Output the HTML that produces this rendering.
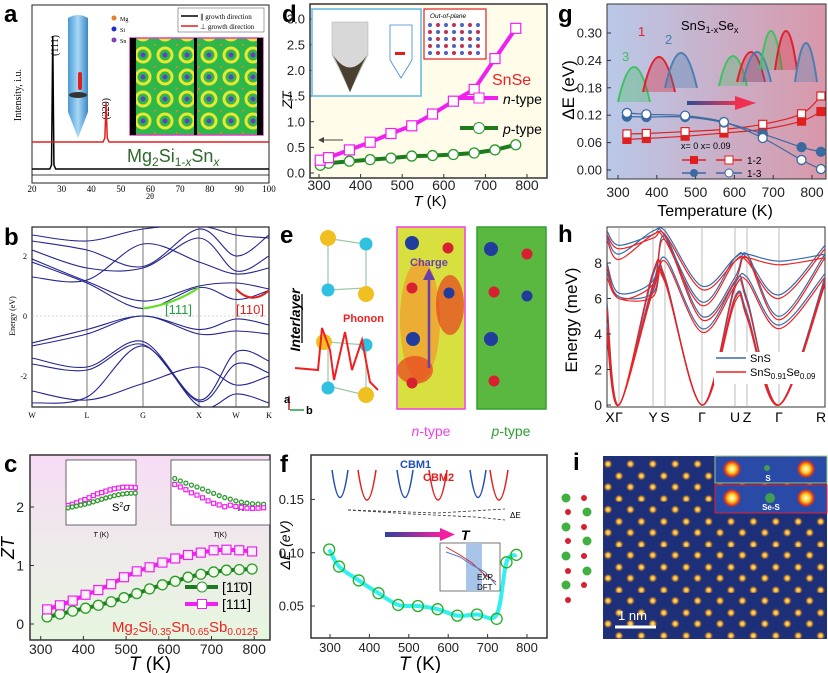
<!DOCTYPE html>
<html><head><meta charset="utf-8"><style>
body{margin:0;background:#fff;width:828px;height:673px;overflow:hidden}
svg{display:block;font-family:"Liberation Sans",sans-serif}
.serif{font-family:"Liberation Serif",serif}
.pl{font-weight:bold;font-size:24px}
</style></head><body>
<svg id="fig" width="828" height="673" viewBox="0 0 828 673" xmlns="http://www.w3.org/2000/svg">
<defs>
<linearGradient id="gc" x1="0" y1="0" x2="0" y2="1"><stop offset="0" stop-color="#f7dcf6"/><stop offset="1" stop-color="#e6f7df"/></linearGradient>
<linearGradient id="gg" x1="0" y1="0" x2="1" y2="0"><stop offset="0" stop-color="#b9c9e9"/><stop offset="1" stop-color="#d997a9"/></linearGradient>
<linearGradient id="arr" x1="0" y1="0" x2="1" y2="0"><stop offset="0" stop-color="#2c4f95"/><stop offset="1" stop-color="#f03050"/></linearGradient>
<linearGradient id="arrf" x1="0" y1="0" x2="1" y2="0"><stop offset="0" stop-color="#3040a0"/><stop offset="1" stop-color="#f020a0"/></linearGradient>
<linearGradient id="cone" x1="0" y1="0" x2="1" y2="0"><stop offset="0" stop-color="#4a9ad8"/><stop offset="0.5" stop-color="#a8d8f4"/><stop offset="1" stop-color="#3a88c8"/></linearGradient>
<pattern id="mapA" width="22" height="22" patternUnits="userSpaceOnUse"><rect width="22" height="22" fill="#2fb84a"/><circle cx="11" cy="11" r="7" fill="none" stroke="#e8e830" stroke-width="3"/><circle cx="11" cy="11" r="2.5" fill="#6040c0"/><circle cx="0" cy="0" r="2" fill="#e08030"/></pattern>
<radialGradient id="dot"><stop offset="0" stop-color="#fff8a0"/><stop offset="0.45" stop-color="#f5a020"/><stop offset="1" stop-color="#1a2a70" stop-opacity="0"/></radialGradient>
<pattern id="stem" width="22.4" height="45.6" patternUnits="userSpaceOnUse" x="603" y="456"><rect width="22.4" height="45.6" fill="#1c2f78"/><circle cx="5" cy="8" r="5" fill="url(#dot)"/><circle cx="16" cy="20" r="5" fill="url(#dot)"/><circle cx="5" cy="31" r="5" fill="url(#dot)"/><circle cx="16" cy="43" r="5" fill="url(#dot)"/></pattern>
<radialGradient id="hot"><stop offset="0" stop-color="#fffff0"/><stop offset="0.4" stop-color="#f8d020"/><stop offset="0.75" stop-color="#e03020"/><stop offset="1" stop-color="#2a4aa0" stop-opacity="0"/></radialGradient>
</defs>

<rect x="30" y="455" width="240" height="185" fill="url(#gc)" stroke="#333" stroke-width="1.5"/>
<rect x="310" y="4" width="237" height="174" fill="#fffdea" stroke="#333" stroke-width="1.5"/>
<rect x="607" y="4" width="219" height="175" fill="url(#gg)" stroke="#333" stroke-width="1"/>
<rect x="311" y="455" width="236" height="183" fill="#fff" stroke="#333" stroke-width="1.5"/>
<rect x="32" y="5" width="237" height="178" fill="#fff" stroke="#222" stroke-width="1"/>
<rect x="32" y="227" width="237" height="180" fill="#fff" stroke="#222" stroke-width="1.2"/>
<rect x="607" y="227" width="218" height="180" fill="#fff" stroke="#333" stroke-width="1"/>

<text class="pl" x="4" y="22">a</text>
<text class="pl" x="4" y="245">b</text>
<text class="pl" x="4" y="472">c</text>
<text class="pl" x="282" y="22">d</text>
<text class="pl" x="280" y="243">e</text>
<text class="pl" x="280" y="472">f</text>
<text class="pl" x="558" y="22">g</text>
<text class="pl" x="558" y="242">h</text>
<text class="pl" x="573" y="470">i</text>

<g>
<path d="M68 18 Q78 12 88 18 L88 112 L78 138 L68 112 Z" fill="url(#cone)"/>
<rect x="78" y="72" width="4" height="18" rx="2" fill="#e02020"/>
<ellipse cx="78" cy="95" rx="9" ry="3" fill="#333"/>
<rect x="130" y="38" width="133" height="97" fill="url(#mapA)" stroke="#e040c0" stroke-width="1.5"/>
<rect x="130" y="38" width="6" height="97" fill="#000"/><rect x="194" y="38" width="3" height="97" fill="#000"/><rect x="257" y="38" width="6" height="97" fill="#000"/>
<circle cx="114" cy="18" r="2.5" fill="#e08030"/><text x="120" y="21" font-size="6" class="serif">Mg</text>
<circle cx="114" cy="29" r="2.5" fill="#2030d0"/><text x="120" y="32" font-size="6" class="serif">Si</text>
<circle cx="114" cy="40" r="2.5" fill="#8040c0"/><text x="120" y="43" font-size="6" class="serif">Sn</text>
<rect x="178" y="8" width="86" height="24" fill="#fff" stroke="#666" stroke-width="0.6"/>
<line x1="181" y1="16" x2="198" y2="16" stroke="#000" stroke-width="1.5"/><text x="200" y="19" font-size="7" class="serif">∥ growth direction</text>
<line x1="181" y1="26" x2="198" y2="26" stroke="#e02020" stroke-width="1.5"/><text x="200" y="29" font-size="7" class="serif">⊥ growth direction</text>
<text x="127" y="162" font-size="18" fill="#2e6a2a">Mg<tspan font-size="12" dy="4">2</tspan><tspan dy="-4">Si</tspan><tspan font-size="12" dy="4">1-<tspan font-style="italic">x</tspan></tspan><tspan dy="-4">Sn</tspan><tspan font-size="12" dy="4" font-style="italic">x</tspan></text>
<text transform="translate(58,35) rotate(-90)" font-size="10" class="serif" text-anchor="end">(111)</text>
<text transform="translate(109,98) rotate(-90)" font-size="10" class="serif" text-anchor="end">(220)</text>
<text transform="translate(21,95) rotate(-90)" font-size="10" class="serif" text-anchor="middle">Intensity, i.u.</text>
<text x="150" y="199" font-size="8" class="serif" text-anchor="middle">2θ</text>
</g>

<g>
<g stroke="#9cc8a8" stroke-width="1.2" fill="none">
<line x1="325" y1="238" x2="365" y2="244"/><line x1="328" y1="290" x2="366" y2="288"/><line x1="328" y1="342" x2="366" y2="345"/><line x1="328" y1="386" x2="365" y2="395"/>
<line x1="328" y1="238" x2="328" y2="290"/><line x1="366" y1="244" x2="366" y2="288"/><line x1="328" y1="342" x2="328" y2="386"/><line x1="366" y1="345" x2="366" y2="395"/></g>
<circle cx="328" cy="238" r="8" fill="#f0c020"/><circle cx="366" cy="244" r="6.5" fill="#30c0e0"/>
<circle cx="328" cy="290" r="6.5" fill="#30c0e0"/><circle cx="366" cy="294" r="8" fill="#f0c020"/>
<circle cx="324" cy="342" r="8" fill="#f0c020"/><circle cx="366" cy="345" r="6.5" fill="#30c0e0"/>
<circle cx="328" cy="388" r="6.5" fill="#30c0e0"/><circle cx="366" cy="395" r="8" fill="#f0c020"/>
<line x1="302" y1="294" x2="302" y2="343" stroke="#000" stroke-width="1.3"/>
<text transform="translate(300,320) rotate(-90)" font-size="14" font-weight="bold" font-style="italic" text-anchor="middle">Interlayer</text>
<path d="M295 368 L318 370 L322 328 L330 350 L334 380 L345 332 L352 370 L362 340 L370 382 L378 390" fill="none" stroke="#f02020" stroke-width="2"/>
<text x="343" y="322" font-size="11" font-weight="bold" fill="#f02020">Phonon</text>
<line x1="289" y1="410" x2="289" y2="396" stroke="#c02020" stroke-width="1.5"/><text x="284" y="403" font-size="11" font-weight="bold">a</text>
<line x1="290" y1="410" x2="304" y2="410" stroke="#20a040" stroke-width="1.5"/><text x="306" y="414" font-size="11" font-weight="bold">b</text>
<rect x="397" y="227" width="68" height="182" fill="#d8e040" stroke="#f040e0" stroke-width="1.5"/>
<ellipse cx="420" cy="320" rx="20" ry="60" fill="#f0a030" opacity="0.8"/><ellipse cx="450" cy="305" rx="14" ry="30" fill="#e84020" opacity="0.7"/><ellipse cx="415" cy="370" rx="18" ry="14" fill="#e84020" opacity="0.7"/>
<circle cx="412" cy="243" r="7" fill="#203c9c"/><circle cx="448" cy="248" r="5.5" fill="#d82030"/>
<circle cx="412" cy="288" r="5.5" fill="#d82030"/><circle cx="449" cy="293" r="5.5" fill="#203c9c"/>
<circle cx="413" cy="339" r="7" fill="#203c9c"/><circle cx="412" cy="383" r="5.5" fill="#d82030"/>
<line x1="429" y1="368" x2="429" y2="275" stroke="#6a40a8" stroke-width="2.5"/><path d="M423 280 L429 268 L435 280 Z" fill="#6a40a8"/>
<text x="410" y="266" font-size="11" font-weight="bold" fill="#6a40a8">Charge</text>
<rect x="477" y="227" width="69" height="182" fill="#5ab840" stroke="#30a030" stroke-width="1.5"/>
<circle cx="491" cy="249" r="7" fill="#203c9c"/><circle cx="527" cy="254" r="5.5" fill="#d82030"/>
<circle cx="494" cy="292" r="5.5" fill="#d82030"/><circle cx="527" cy="296" r="5.5" fill="#203c9c"/>
<circle cx="491" cy="339" r="7" fill="#203c9c"/><circle cx="494" cy="381" r="5.5" fill="#d82030"/>
<text x="431" y="436" font-size="14" fill="#f040e0" text-anchor="middle"><tspan font-style="italic">n</tspan>-type</text>
<text x="511" y="436" font-size="14" fill="#30a030" text-anchor="middle"><tspan font-style="italic">p</tspan>-type</text>
</g>

<g>
<rect x="603" y="456" width="224" height="183" fill="url(#stem)"/>
<rect x="715" y="456" width="112" height="27" fill="#2a4aa8" stroke="#a0c880" stroke-width="1"/>
<circle cx="732" cy="469" r="10" fill="url(#hot)"/><circle cx="806" cy="469" r="10" fill="url(#hot)"/><circle cx="767" cy="468" r="3" fill="#40a050"/>
<text x="768" y="481" font-size="8" fill="#fff" font-weight="bold" text-anchor="middle">S</text>
<rect x="715" y="485" width="112" height="28" fill="#2a4aa8" stroke="#e02030" stroke-width="1"/>
<circle cx="732" cy="498" r="10" fill="url(#hot)"/><circle cx="806" cy="498" r="10" fill="url(#hot)"/><circle cx="770" cy="498" r="5" fill="#40a050"/>
<text x="771" y="510" font-size="8" fill="#fff" font-weight="bold" text-anchor="middle">Se-S</text>
<line x1="615" y1="627" x2="656" y2="627" stroke="#fff" stroke-width="3"/>
<text x="618" y="620" font-size="13" fill="#fff">1 nm</text>
<g fill="#40b040"><circle cx="566" cy="498" r="4.5"/><circle cx="587" cy="512" r="4.5"/><circle cx="566" cy="527" r="4.5"/><circle cx="587" cy="541" r="4.5"/><circle cx="566" cy="556" r="4.5"/><circle cx="587" cy="571" r="4.5"/><circle cx="566" cy="585" r="4.5"/></g>
<g fill="#d82030"><circle cx="584" cy="498" r="3"/><circle cx="568" cy="512" r="3"/><circle cx="584" cy="527" r="3"/><circle cx="568" cy="541" r="3"/><circle cx="584" cy="556" r="3"/><circle cx="568" cy="571" r="3"/><circle cx="584" cy="585" r="3"/><circle cx="568" cy="600" r="3"/></g>
</g>

<g id="charts"></g>
</svg>
<script>
// ---- panel a data ----
const aTicks = [20,30,40,50,60,70,80,90,100];
const aPeakPos = [27, 45];
const aPeakTop = [36, 103];
// ---- panel b data (energies at W L G X W K) ----
const bKLabels = ['W','L','G','X','W','K'];
const bKpos = [32,87,143,199,236,269];
const bBands = [
 [1.8,1.1,0.25,0.95,0.55,0.85],[1.9,1.15,0.5,1.0,1.1,0.9],[2.2,1.6,1.6,2.6,1.5,2.0],
 [2.5,2.2,1.65,2.9,2.0,2.7],[2.7,2.5,2.9,3.0,2.7,2.6],[1.3,1.2,2.4,1.8,1.4,1.6],
 [-0.9,-0.45,0,-0.45,-0.1,-0.3],[-1.0,-0.6,0,-0.6,-0.5,-0.6],[-1.4,-1.7,-0.85,-2.8,-1.2,-1.5],
 [-1.6,-1.8,-0.95,-2.85,-1.6,-1.9],[-2.5,-2.8,-2.25,-1.7,-2.3,-2.0],[-2.9,-2.7,-1.0,-3.0,-2.6,-2.9]];
const bYTicks = [2,0,-2];
// ---- panel c data ----
const cT = [315,345,375,405,435,465,495,525,555,585,615,645,675,705,735,765,795];
const c111 = [0.25,0.32,0.40,0.50,0.58,0.68,0.80,0.90,0.97,1.05,1.12,1.18,1.22,1.26,1.27,1.26,1.24];
const c110 = [0.12,0.17,0.22,0.27,0.32,0.38,0.45,0.52,0.60,0.67,0.73,0.80,0.85,0.89,0.92,0.93,0.94];
const cXTicks = [300,400,500,600,700,800];
const cYTicks = [0,1,2];
// ---- panel d data ----
const dT = [303,323,373,423,473,523,573,623,673,723,773];
const dN = [0.25,0.30,0.45,0.60,0.77,0.92,1.15,1.40,1.63,2.23,2.82];
const dP = [0.15,0.19,0.23,0.26,0.29,0.33,0.34,0.36,0.39,0.45,0.55];
const dXTicks = [300,400,500,600,700,800];
const dYTicks = [0,0.5,1,1.5,2,2.5,3];
// ---- panel f data ----
const fT = [298,323,373,423,473,523,573,623,673,723,748,773];
const fE = [0.103,0.087,0.074,0.062,0.051,0.050,0.047,0.041,0.042,0.038,0.091,0.098];
const fXTicks = [300,400,500,600,700,800];
const fYTicks = [0.05,0.10,0.15];
// ---- panel g data ----
const gT = [323,373,473,573,673,773,823];
const g12x0 = [0.067,0.069,0.074,0.081,0.089,0.107,0.128];
const g12x9 = [0.079,0.080,0.084,0.089,0.100,0.123,0.162];
const g13x0 = [0.117,0.116,0.116,0.104,0.079,0.050,0.040];
const g13x9 = [0.125,0.122,0.119,0.105,0.070,0.022,0.002];
const gXTicks = [300,400,500,600,700,800];
const gYTicks = [0,0.06,0.12,0.18,0.24,0.30];
// ---- panel h data (X G Y S G U Z G R) ----
const hKLabels = ['X','Γ','Y','S','Γ','U','Z','Γ','R'];
const hKpos = [607,619,653,665,702,735,747,779,825];
const hBlue = [[4,0,6.6,7.0,0,6.0,5.2,0,7.0],[4.6,0,6.8,7.1,0,6.1,5.0,0,7.2],[5.8,0,7.3,7.2,0,6.8,6.0,0,6.9],
 [7.5,6.1,6.3,8.3,4.3,6.9,7.2,4.5,7.4],[8.0,6.3,7.0,9.5,5.0,7.2,8.5,5.0,8.5],[9.5,8.5,9.8,9.5,5.8,8.3,8.3,6.2,9.0],[9.8,9.0,9.6,9.8,6.7,8.3,8.5,8.1,8.5]];
const hRed = [[3.8,0,6.4,6.9,0,5.8,5.0,0,6.8],[4.3,0,6.7,7.0,0,6.0,4.9,0,7.0],[5.5,0,7.5,7.1,0,6.6,5.8,0,6.8],
 [7.2,6.0,6.1,8.1,4.1,6.7,7.0,4.3,7.2],[7.8,6.0,6.8,9.3,4.8,7.0,8.3,4.8,8.3],[9.3,8.2,9.6,9.3,5.6,8.1,8.1,6.0,8.8],[9.6,8.8,9.4,9.6,6.5,8.1,8.3,7.9,8.3]];
const hYTicks = [0,2,4,6,8];

const NS='http://www.w3.org/2000/svg';
const root=document.getElementById('charts');
function mk(tag,attrs,parent){const e=document.createElementNS(NS,tag);for(const k in attrs)e.setAttribute(k,attrs[k]);(parent||root).appendChild(e);return e;}
function txt(x,y,s,attrs){const e=mk('text',Object.assign({x:x,y:y},attrs||{}));e.textContent=s;return e;}
function poly(xs,ys){return xs.map((x,i)=>(i?'L':'M')+x.toFixed(1)+' '+ys[i].toFixed(1)).join(' ');}
function smooth(xs,ys){let d='M'+xs[0].toFixed(1)+' '+ys[0].toFixed(1);for(let i=0;i<xs.length-1;i++){const a=Math.max(i-1,0),b=Math.min(i+2,xs.length-1);
 const c1x=xs[i]+(xs[i+1]-xs[a])/6,c1y=ys[i]+(ys[i+1]-ys[a])/6,c2x=xs[i+1]-(xs[b]-xs[i])/6,c2y=ys[i+1]-(ys[b]-ys[i])/6;
 d+=' C'+c1x.toFixed(1)+' '+c1y.toFixed(1)+' '+c2x.toFixed(1)+' '+c2y.toFixed(1)+' '+xs[i+1].toFixed(1)+' '+ys[i+1].toFixed(1);}return d;}

const xa=t=>32+(t-20)*2.9625, yb=e=>316-e*30;
const xc=T=>40.7+(T-300)*0.427, yc=v=>624-v*58.5;
const xd=T=>319+(T-300)*0.416, yd=v=>173-v*51.3;
const xf=T=>330+(T-300)*0.394, yf=v=>606-(v-0.05)*1066;
const xg=T=>618+(T-300)*0.388, yg=v=>170-v*456.7;
const yh=e=>405-e*17.75;

// ---- panel a ----
aTicks.forEach(t=>{const l=txt(xa(t),192,String(t),{'font-size':9,'text-anchor':'middle',class:'serif'});

});
function xrd(base,pos,top,col,nm){let d='M32 '+base;const w=1.2;d+=' L'+(xa(pos)-3)+' '+base+' L'+(xa(pos)-w)+' '+(base-4)+' L'+xa(pos)+' '+top+' L'+(xa(pos)+w)+' '+(base-4)+' L'+(xa(pos)+3)+' '+base+' L269 '+base;
 const p=mk('path',{d:d,fill:'none',stroke:col,'stroke-width':1.5});
 
 }
xrd(169,aPeakPos[0],aPeakTop[0],'#000','xrd-parallel-line');
xrd(142,aPeakPos[1],aPeakTop[1],'#e02020','xrd-perpendicular-line');
mk('line',{x1:32,y1:175,x2:269,y2:175,stroke:'#000','stroke-width':0.8});

// ---- panel b ----
bKpos.slice(1,5).forEach(x=>mk('line',{x1:x,y1:227,x2:x,y2:407,stroke:'#555','stroke-width':0.8}));
mk('line',{x1:32,y1:yb(0),x2:269,y2:yb(0),stroke:'#aaa','stroke-width':0.6,'stroke-dasharray':'2 2'});
const bClip=mk('clipPath',{id:'bclip'});mk('rect',{x:32,y:227,width:237,height:180},bClip);
bBands.forEach((bd)=>{const p=mk('path',{d:smooth(bKpos,bd.map(yb)),fill:'none',stroke:'#242490','stroke-width':1.1,'clip-path':'url(#bclip)'});

});
mk('path',{d:'M143 '+yb(0.25)+' Q175 '+yb(0.4)+' 199 '+yb(0.95),fill:'none',stroke:'#60e020','stroke-width':2});
mk('path',{d:'M236 '+yb(0.9)+' Q252 '+yb(0.35)+' 269 '+yb(0.85),fill:'none',stroke:'#e02020','stroke-width':2});
txt(165,314,'[111]',{'font-size':13,fill:'#20a040'});
txt(236,314,'[110]',{'font-size':13,fill:'#e02020'});
bKLabels.forEach((s,i)=>{const l=txt(bKpos[i],418,s,{'font-size':8,'text-anchor':'middle',class:'serif'});

});
bYTicks.forEach(v=>{const l=txt(27,yb(v)+3,String(v),{'font-size':8,'text-anchor':'end',class:'serif'});

});
txt(0,0,'Energy (eV)',{'font-size':8,'text-anchor':'middle',class:'serif',transform:'translate(15,316) rotate(-90)'});

function xTicks(arr,xf_,yAxis,yLbl,size,nm){arr.forEach(t=>{mk('line',{x1:xf_(t),y1:yAxis,x2:xf_(t),y2:yAxis-4,stroke:'#333'});
 const l=txt(xf_(t),yLbl,String(t),{'font-size':size,'text-anchor':'middle',fill:'#222'});
 
 });}
function yTicks(arr,yf_,xAxis,xLbl,size,fmt,nm){arr.forEach(v=>{mk('line',{x1:xAxis,y1:yf_(v),x2:xAxis+4,y2:yf_(v),stroke:'#333'});
 const l=txt(xLbl,yf_(v)+size*0.35,fmt(v),{'font-size':size,'text-anchor':'end',fill:'#222'});
 
 });}
function markers(xs,ys,shape,col,fill,sz,nm){xs.forEach((x,i)=>{let e;
 if(shape==='sq')e=mk('rect',{x:x-sz,y:ys[i]-sz,width:2*sz,height:2*sz,fill:fill,stroke:col,'stroke-width':1.2});
 else e=mk('circle',{cx:x,cy:ys[i],r:sz,fill:fill,stroke:col,'stroke-width':1.3});
 
 });}

// ---- panel c ----
xTicks(cXTicks,xc,640,654,14,'c-x-tick-label');
yTicks(cYTicks,yc,30,24,14,v=>String(v),'c-y-tick-label');
let p;
p=mk('path',{d:poly(cT.map(xc),c110.map(yc)),fill:'none',stroke:'#1e7a1e','stroke-width':4});


p=mk('path',{d:poly(cT.map(xc),c111.map(yc)),fill:'none',stroke:'#f020f0','stroke-width':4});


markers(cT.map(xc),c110.map(yc),'ci','#2a9a2a','#f0fbe8',5,'c-110-point');
markers(cT.map(xc),c111.map(yc),'sq','#f020f0','#fbeefb',4.5,'c-111-point');
mk('line',{x1:185,y1:587,x2:218,y2:587,stroke:'#1e7a1e','stroke-width':4});mk('circle',{cx:202,cy:587,r:5,fill:'#fff',stroke:'#2a9a2a'});
txt(222,592,'[11̄0]',{'font-size':14});
mk('line',{x1:185,y1:604,x2:218,y2:604,stroke:'#f020f0','stroke-width':4});mk('rect',{x:197.5,y:599.5,width:9,height:9,fill:'#fff',stroke:'#f020f0'});
txt(222,609,'[111]',{'font-size':14});
txt(112,632,'Mg',{'font-size':15,fill:'#f02020'}).innerHTML='Mg<tspan font-size="10" dy="3">2</tspan><tspan dy="-3">Si</tspan><tspan font-size="10" dy="3">0.35</tspan><tspan dy="-3">Sn</tspan><tspan font-size="10" dy="3">0.65</tspan><tspan dy="-3">Sb</tspan><tspan font-size="10" dy="3">0.0125</tspan>';
txt(0,0,'ZT',{'font-size':18,'font-style':'italic','text-anchor':'middle',transform:'translate(14,548) rotate(-90)'});
txt(150,670,'',{'font-size':19,'text-anchor':'middle'}).innerHTML='<tspan font-style="italic">T</tspan> (K)';
mk('rect',{x:66,y:460,width:70,height:65,fill:'#fff',stroke:'#444','stroke-width':0.8});
mk('rect',{x:171,y:460,width:99,height:65,fill:'#fff',stroke:'#444','stroke-width':0.8});
txt(112,511,'',{'font-size':11}).innerHTML='S<tspan font-size="7" dy="-4">2</tspan><tspan dy="4" font-style="italic">σ</tspan>';
txt(238,511,'κ',{'font-size':13,'font-style':'italic'});
[[cT,c111,'#f020f0','sq'],[cT,c110,'#2a9a2a','ci']].forEach(s=>{markers(s[0].map(t=>66+(t-300)*0.14),s[1].map(v=>510-v*18),s[3],s[2],'#fff',2,'c-inset-point');});
[[cT,c110,'#2a9a2a','ci'],[cT,c111,'#f020f0','sq']].forEach(s=>{markers(s[0].map(t=>172+(t-300)*0.185),s[1].map(v=>468+44*Math.pow(v/1.3,0.6)-(v>1.1?3:0)),s[3],s[2],'#fff',2,'c-inset-point');});
txt(101,537,'',{'font-size':7,'text-anchor':'middle'}).innerHTML='<tspan font-style="italic">T</tspan> (K)';
txt(220,537,'',{'font-size':7,'text-anchor':'middle'}).innerHTML='<tspan font-style="italic">T</tspan>(K)';

// ---- panel d ----
xTicks(dXTicks,xd,178,190,14,'d-x-tick-label');
yTicks(dYTicks,yd,310,305,13,v=>v.toFixed(1),'d-y-tick-label');
p=mk('path',{d:poly(dT.map(xd),dP.map(yd)),fill:'none',stroke:'#1e7a1e','stroke-width':4,'stroke-linejoin':'round'});


p=mk('path',{d:poly(dT.map(xd),dN.map(yd)),fill:'none',stroke:'#f020f0','stroke-width':4,'stroke-linejoin':'round'});


markers(dT.map(xd),dP.map(yd),'ci','#2a9a2a','#fff',5,'d-p-type-point');
markers(dT.map(xd),dN.map(yd),'sq','#f020f0','#fff',5,'d-n-type-point');
txt(492,85,'SnSe',{'font-size':16,fill:'#f02020'});
mk('line',{x1:460,y1:98,x2:498,y2:98,stroke:'#f020f0','stroke-width':4});mk('rect',{x:474,y:93,width:10,height:10,fill:'#fff',stroke:'#f020f0'});
txt(503,104,'',{'font-size':14}).innerHTML='<tspan font-style="italic">n</tspan>-type';
mk('line',{x1:460,y1:128,x2:498,y2:128,stroke:'#1e7a1e','stroke-width':4});mk('circle',{cx:479,cy:128,r:5.5,fill:'#fff',stroke:'#2a9a2a'});
txt(503,134,'',{'font-size':14}).innerHTML='<tspan font-style="italic">p</tspan>-type';
mk('line',{x1:320,y1:140,x2:343,y2:140,stroke:'#444','stroke-width':1});mk('path',{d:'M318 140 L324 137 L324 143 Z',fill:'#444'});
txt(430,206,'',{'font-size':15,'text-anchor':'middle'}).innerHTML='<tspan font-style="italic">T</tspan> (K)';
txt(0,0,'ZT',{'font-size':14,'font-style':'italic','text-anchor':'middle',transform:'translate(292,100) rotate(-90)'});
mk('rect',{x:312,y:9,width:109,height:87,fill:'#fff',stroke:'#5ab8e8','stroke-width':1.5});
mk('path',{d:'M332 22 L368 22 L368 55 Q360 70 350 92 Q340 70 332 55 Z',fill:'#d8d8d8',stroke:'#aaa','stroke-width':0.5});
mk('path',{d:'M333 55 Q340 68 350 92 Q360 68 367 55 Q350 80 333 55Z',fill:'#4a4030'});
mk('path',{d:'M390 25 L412 25 L412 60 L401 78 L390 60 Z',fill:'none',stroke:'#3a88d8','stroke-width':0.8});
mk('rect',{x:395,y:52,width:10,height:3,fill:'#e02020'});
mk('rect',{x:424,y:9,width:62,height:50,fill:'#fff',stroke:'#e02020','stroke-width':1.2});
txt(430,18,'Out-of-plane',{'font-size':6.5,'font-style':'italic'});
for(let r=0;r<5;r++)for(let c=0;c<7;c++)mk('circle',{cx:430+c*8,cy:25+r*7,r:2,fill:(r+c)%2?'#c03050':'#5060c0'});

// ---- panel f ----
xTicks(fXTicks,xf,638,652,13,'f-x-tick-label');
yTicks(fYTicks,yf,311,304,13,v=>v.toFixed(2),'f-y-tick-label');
p=mk('path',{d:smooth(fT.map(xf),fE.map((v,i)=>yf(i===9?0.042:v))),fill:'none',stroke:'#30f0f0','stroke-width':4});


markers(fT.map(xf),fE.map(yf),'ci','#20b020','none',5.5,'f-delta-e-point');
txt(0,0,'ΔE (eV)',{'font-size':14,'font-style':'italic','text-anchor':'middle',transform:'translate(290,545) rotate(-90)'});
txt(420,670,'',{'font-size':19,'text-anchor':'middle'}).innerHTML='<tspan font-style="italic">T</tspan> (K)';
[340,405,478].forEach(x=>{mk('path',{d:'M'+(x-8)+' 470 Q'+x+' 525 '+(x+8)+' 470',fill:'none',stroke:'#2050b0','stroke-width':1.5});});
[367,438,499].forEach(x=>{mk('path',{d:'M'+(x-9)+' 470 Q'+x+' 530 '+(x+9)+' 470',fill:'none',stroke:'#e02020','stroke-width':1.5});});
mk('path',{d:'M348 510 L438 513 L505 509',fill:'none',stroke:'#333','stroke-dasharray':'3 2','stroke-width':0.8});
mk('path',{d:'M348 510 L412 514 L475 517 L505 520',fill:'none',stroke:'#333','stroke-dasharray':'3 2','stroke-width':0.8});
txt(400,468,'CBM1',{'font-size':11,'font-weight':'bold',fill:'#2050b0'});
txt(423,481,'CBM2',{'font-size':11,'font-weight':'bold',fill:'#e02020'});
txt(510,518,'ΔE',{'font-size':8});
mk('rect',{x:385,y:532,width:55,height:5,fill:'url(#arrf)'});mk('path',{d:'M440 528 L455 534.5 L440 541 Z',fill:'#f020a0'});
txt(461,540,'T',{'font-size':14,'font-weight':'bold','font-style':'italic'});
mk('rect',{x:440,y:543,width:60,height:48,fill:'#fff',stroke:'#555','stroke-width':0.8});
mk('rect',{x:466,y:543,width:16,height:48,fill:'#a8c4e8'});
mk('path',{d:'M446 547 L460 555 L472 563 L485 575 L496 582',fill:'none',stroke:'#e02020'});
mk('path',{d:'M446 552 L460 557 L472 565 L485 572 L496 585',fill:'none',stroke:'#5080d0'});
txt(477,580,'EXP',{'font-size':8});txt(477,590,'DFT',{'font-size':8});

// ---- panel g ----
xTicks(gXTicks,xg,179,197,14,'g-x-tick-label');
yTicks(gYTicks,yg,607,602,13,v=>v.toFixed(2),'g-y-tick-label');
txt(715,216,'Temperature (K)',{'font-size':16,'text-anchor':'middle'});
txt(0,0,'ΔE (eV)',{'font-size':17,'text-anchor':'middle',transform:'translate(574,90) rotate(-90)'});
txt(681,30,'',{'font-size':13}).innerHTML='SnS<tspan font-size="9" dy="3">1-x</tspan><tspan dy="-3">Se</tspan><tspan font-size="9" dy="3">x</tspan>';
[[634,102,'#40c060'],[659,92,'#e02030'],[681,88,'#4a7fb0']].forEach(h=>mk('path',{d:'M'+(h[0]-16)+' '+h[1]+' Q'+h[0]+' '+(h[1]-70)+' '+(h[0]+16)+' '+h[1],fill:h[2],'fill-opacity':0.35,stroke:h[2],'stroke-width':2}));
[[733,86,'#40c060'],[751,82,'#e02030'],[757,82,'#4a7fb0']].forEach(h=>mk('path',{d:'M'+(h[0]-14)+' '+h[1]+' Q'+h[0]+' '+(h[1]-60)+' '+(h[0]+14)+' '+h[1],fill:h[2],'fill-opacity':0.3,stroke:h[2],'stroke-width':2}));
[[771,70,'#40c060'],[786,70,'#e02030'],[806,82,'#4a7fb0']].forEach(h=>mk('path',{d:'M'+(h[0]-11)+' '+h[1]+' Q'+h[0]+' '+(h[1]-78)+' '+(h[0]+11)+' '+h[1],fill:h[2],'fill-opacity':0.3,stroke:h[2],'stroke-width':2}));
txt(622,61,'3',{'font-size':13,fill:'#40c060'});txt(638,36,'1',{'font-size':13,fill:'#e02030'});txt(665,44,'2',{'font-size':13,fill:'#4a7fb0'});
mk('rect',{x:687,y:101,width:50,height:4,fill:'url(#arr)'});mk('path',{d:'M735 96 L756 103 L735 110 Z',fill:'#f03050'});
[[g12x0,'#e02020','sq','#e02020','g-x0-1-2'],[g12x9,'#e02020','sq','#fff','g-x009-1-2'],[g13x0,'#3a6aa0','ci','#3a6aa0','g-x0-1-3'],[g13x9,'#3a6aa0','ci','#fff','g-x009-1-3']].forEach(s=>{
 const q=mk('path',{d:smooth(gT.map(xg),s[0].map(yg)),fill:'none',stroke:s[1],'stroke-width':1.2});
 
 
 markers(gT.map(xg),s[0].map(yg),s[2],s[1],s[3],s[2]==='sq'?4:4.5,s[4]+'-point');});
txt(681,149,'x= 0   x= 0.09',{'font-size':9});
mk('line',{x1:682,y1:160,x2:706,y2:160,stroke:'#e02020','stroke-width':1.5});mk('rect',{x:690,y:156,width:8,height:8,fill:'#e02020'});
mk('line',{x1:716,y1:160,x2:742,y2:160,stroke:'#e02020','stroke-width':1.5});mk('rect',{x:725,y:156,width:8,height:8,fill:'#fff',stroke:'#e02020'});
txt(747,164,'1-2',{'font-size':10});
mk('line',{x1:682,y1:173,x2:706,y2:173,stroke:'#3a6aa0','stroke-width':1.5});mk('circle',{cx:694,cy:173,r:4,fill:'#3a6aa0'});
mk('line',{x1:716,y1:173,x2:742,y2:173,stroke:'#3a6aa0','stroke-width':1.5});mk('circle',{cx:729,cy:173,r:4,fill:'#fff',stroke:'#3a6aa0'});
txt(747,177,'1-3',{'font-size':10});

// ---- panel h ----
hKpos.slice(1,8).forEach(x=>mk('line',{x1:x,y1:227,x2:x,y2:407,stroke:'#aaa','stroke-width':0.8}));
const hClip=mk('clipPath',{id:'hclip'});mk('rect',{x:607,y:227,width:218,height:180},hClip);
hBlue.forEach(bd=>{const q=mk('path',{d:smooth(hKpos,bd.map(yh)),fill:'none',stroke:'#3a6aa8','stroke-width':1.2,'clip-path':'url(#hclip)'});

});
hRed.forEach(bd=>{const q=mk('path',{d:smooth(hKpos,bd.map(yh)),fill:'none',stroke:'#f02020','stroke-width':1.2,'clip-path':'url(#hclip)'});

});
yTicks(hYTicks,yh,607,602,14,v=>String(v),'h-y-tick-label');
hKLabels.forEach((s,i)=>{const l=txt(hKpos[i]+(i===0?3:0)+(i===8?-4:0),422,s,{'font-size':14,'text-anchor':'middle'});

});
txt(0,0,'Energy (meV)',{'font-size':17,'text-anchor':'middle',transform:'translate(577,320) rotate(-90)'});
mk('rect',{x:714,y:352,width:106,height:32,fill:'#fff'});
mk('line',{x1:716,y1:358,x2:746,y2:358,stroke:'#3a6aa8','stroke-width':1.5});txt(750,362,'SnS',{'font-size':11});
mk('line',{x1:716,y1:372,x2:746,y2:372,stroke:'#f02020','stroke-width':1.5});
txt(750,376,'',{'font-size':11}).innerHTML='SnS<tspan font-size="8" dy="3">0.91</tspan><tspan dy="-3">Se</tspan><tspan font-size="8" dy="3">0.09</tspan>';
</script>
</body></html>
